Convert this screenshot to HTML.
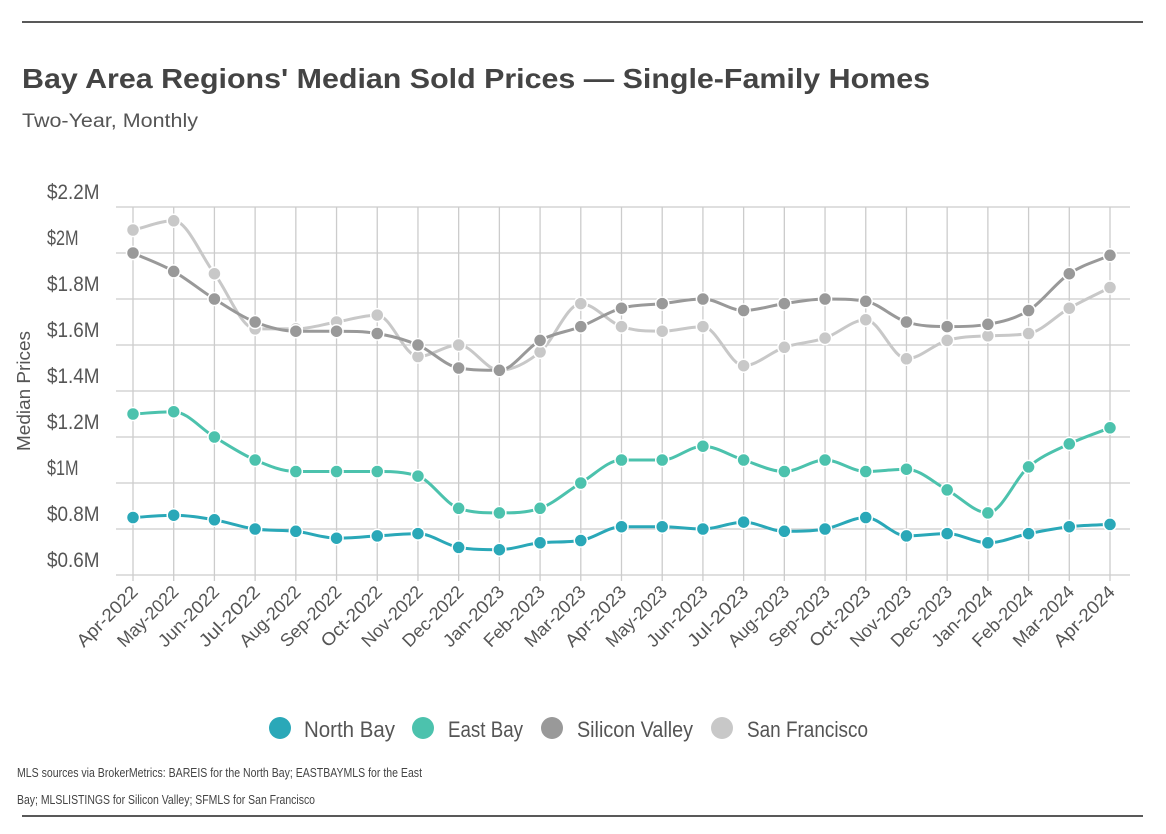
<!DOCTYPE html>
<html><head><meta charset="utf-8">
<style>
html,body{margin:0;padding:0;background:#fff;width:1166px;height:834px;overflow:hidden}
svg{display:block;font-family:"Liberation Sans",sans-serif}
</style></head>
<body>
<svg id="chart" width="1166" height="834" viewBox="0 0 1166 834">
<line x1="22" y1="22" x2="1143" y2="22" stroke="#222" stroke-width="1.5"/>
<line x1="22" y1="816" x2="1143" y2="816" stroke="#222" stroke-width="1.5"/>
<text x="22" y="88" font-size="28" font-weight="bold" fill="#444" textLength="908" lengthAdjust="spacingAndGlyphs">Bay Area Regions' Median Sold Prices — Single-Family Homes</text>
<text x="22" y="127" font-size="19" fill="#555" textLength="176" lengthAdjust="spacingAndGlyphs">Two-Year, Monthly</text>
<text transform="translate(30,391) rotate(-90)" text-anchor="middle" font-size="18" fill="#555" textLength="120" lengthAdjust="spacingAndGlyphs">Median Prices</text>
<g id="grid"></g><g id="series"></g><g id="xlabels"></g>
<g>
<circle cx="280" cy="728" r="11" fill="#2aa8b8"/>
<text x="304" y="737" font-size="22" fill="#555" textLength="91" lengthAdjust="spacingAndGlyphs">North Bay</text>
<circle cx="423" cy="728" r="11" fill="#4cc2ad"/>
<text x="448" y="737" font-size="22" fill="#555" textLength="75" lengthAdjust="spacingAndGlyphs">East Bay</text>
<circle cx="552" cy="728" r="11" fill="#999"/>
<text x="577" y="737" font-size="22" fill="#555" textLength="116" lengthAdjust="spacingAndGlyphs">Silicon Valley</text>
<circle cx="722" cy="728" r="11" fill="#c8c8c8"/>
<text x="747" y="737" font-size="22" fill="#555" textLength="121" lengthAdjust="spacingAndGlyphs">San Francisco</text>
</g>
<text x="17" y="777" font-size="12.5" fill="#444" textLength="405" lengthAdjust="spacingAndGlyphs">MLS sources via BrokerMetrics: BAREIS for the North Bay; EASTBAYMLS for the East</text>
<text x="17" y="804" font-size="12.5" fill="#444" textLength="298" lengthAdjust="spacingAndGlyphs">Bay; MLSLISTINGS for Silicon Valley; SFMLS for San Francisco</text>
</svg>
<script>
const categories=["Apr-2022","May-2022","Jun-2022","Jul-2022","Aug-2022","Sep-2022","Oct-2022","Nov-2022","Dec-2022","Jan-2023","Feb-2023","Mar-2023","Apr-2023","May-2023","Jun-2023","Jul-2023","Aug-2023","Sep-2023","Oct-2023","Nov-2023","Dec-2023","Jan-2024","Feb-2024","Mar-2024","Apr-2024"];
const northBay=[0.85,0.86,0.84,0.80,0.79,0.76,0.77,0.78,0.72,0.71,0.74,0.75,0.81,0.81,0.80,0.83,0.79,0.80,0.85,0.77,0.78,0.74,0.78,0.81,0.82];
const eastBay=[1.30,1.31,1.20,1.10,1.05,1.05,1.05,1.03,0.89,0.87,0.89,1.00,1.10,1.10,1.16,1.10,1.05,1.10,1.05,1.06,0.97,0.87,1.07,1.17,1.24];
const siliconValley=[2.00,1.92,1.80,1.70,1.66,1.66,1.65,1.60,1.50,1.49,1.62,1.68,1.76,1.78,1.80,1.75,1.78,1.80,1.79,1.70,1.68,1.69,1.75,1.91,1.99];
const sanFrancisco=[2.10,2.14,1.91,1.67,1.67,1.70,1.73,1.55,1.60,1.49,1.57,1.78,1.68,1.66,1.68,1.51,1.59,1.63,1.71,1.54,1.62,1.64,1.65,1.76,1.85];
const yTicks=[0.6,0.8,1.0,1.2,1.4,1.6,1.8,2.0,2.2];
const yTickLabels=["$0.6M","$0.8M","$1M","$1.2M","$1.4M","$1.6M","$1.8M","$2M","$2.2M"];

const NS="http://www.w3.org/2000/svg";
const X0=133,X1=1110,GL=116,GR=1130,Y0=575,Y1=207,VMIN=0.6,VMAX=2.2;
function xs(i){return X0+(X1-X0)*i/(categories.length-1);}
function ys(v){return Y0-(v-VMIN)/(VMAX-VMIN)*(Y0-Y1);}
function mk(tag,attrs,parent){const e=document.createElementNS(NS,tag);for(const k in attrs)e.setAttribute(k,attrs[k]);parent.appendChild(e);return e;}
const grid=document.getElementById('grid');
yTicks.forEach((t,i)=>{
  const l=mk('line',{x1:GL,x2:GR,y1:ys(t),y2:ys(t),stroke:'#ccc','stroke-width':1.3},grid);
  
  
  const tx=mk('text',{x:47,y:ys(t)-8,'font-size':21,fill:'#555',textLength:yTickLabels[i].length*10.5,lengthAdjust:'spacingAndGlyphs'},grid);
  tx.textContent=yTickLabels[i];
  
  
});
const xl=document.getElementById('xlabels');
categories.forEach((c,i)=>{
  const l=mk('line',{x1:xs(i),x2:xs(i),y1:Y1,y2:Y0+6,stroke:'#ccc','stroke-width':1.3},grid);
  
  
  const t=mk('text',{transform:`translate(${xs(i)+6},${Y0+18}) rotate(-45)`,'text-anchor':'end','font-size':18,fill:'#555',textLength:78,lengthAdjust:'spacingAndGlyphs'},xl);
  t.textContent=c;
  
  
});
function monotonePath(px,py){
  const n=px.length,d=[],m=[];
  for(let i=0;i<n-1;i++)d.push((py[i+1]-py[i])/(px[i+1]-px[i]));
  for(let i=0;i<n;i++){
    if(i===0)m.push(d[0]);else if(i===n-1)m.push(d[n-2]);
    else m.push(d[i-1]*d[i]<=0?0:(d[i-1]+d[i])/2);
  }
  for(let i=0;i<n-1;i++){
    if(d[i]===0){m[i]=0;m[i+1]=0;continue;}
    const a=m[i]/d[i],b=m[i+1]/d[i],s=a*a+b*b;
    if(s>9){const t=3/Math.sqrt(s);m[i]=t*a*d[i];m[i+1]=t*b*d[i];}
  }
  let p=`M${px[0]},${py[0]}`;
  for(let i=0;i<n-1;i++){const h=(px[i+1]-px[i])/3;
    p+=`C${px[i]+h},${py[i]+m[i]*h} ${px[i+1]-h},${py[i+1]-m[i+1]*h} ${px[i+1]},${py[i+1]}`;}
  return p;
}
const sg=document.getElementById('series');
[[sanFrancisco,'#c8c8c8','series-san-francisco'],[siliconValley,'#999','series-silicon-valley'],[eastBay,'#4cc2ad','series-east-bay'],[northBay,'#2aa8b8','series-north-bay']].forEach(([vals,col,name])=>{
  const g=mk('g',{},sg);
  
  
  const px=vals.map((v,i)=>xs(i)),py=vals.map(v=>ys(v));
  const p=mk('path',{d:monotonePath(px,py),fill:'none',stroke:col,'stroke-width':3},g);
  
  
  vals.forEach((v,i)=>{
    const c=mk('circle',{cx:xs(i),cy:ys(v),r:6.5,fill:col,stroke:'#fff','stroke-width':1.5},g);
    
    
  });
});
</script>
</body></html>
